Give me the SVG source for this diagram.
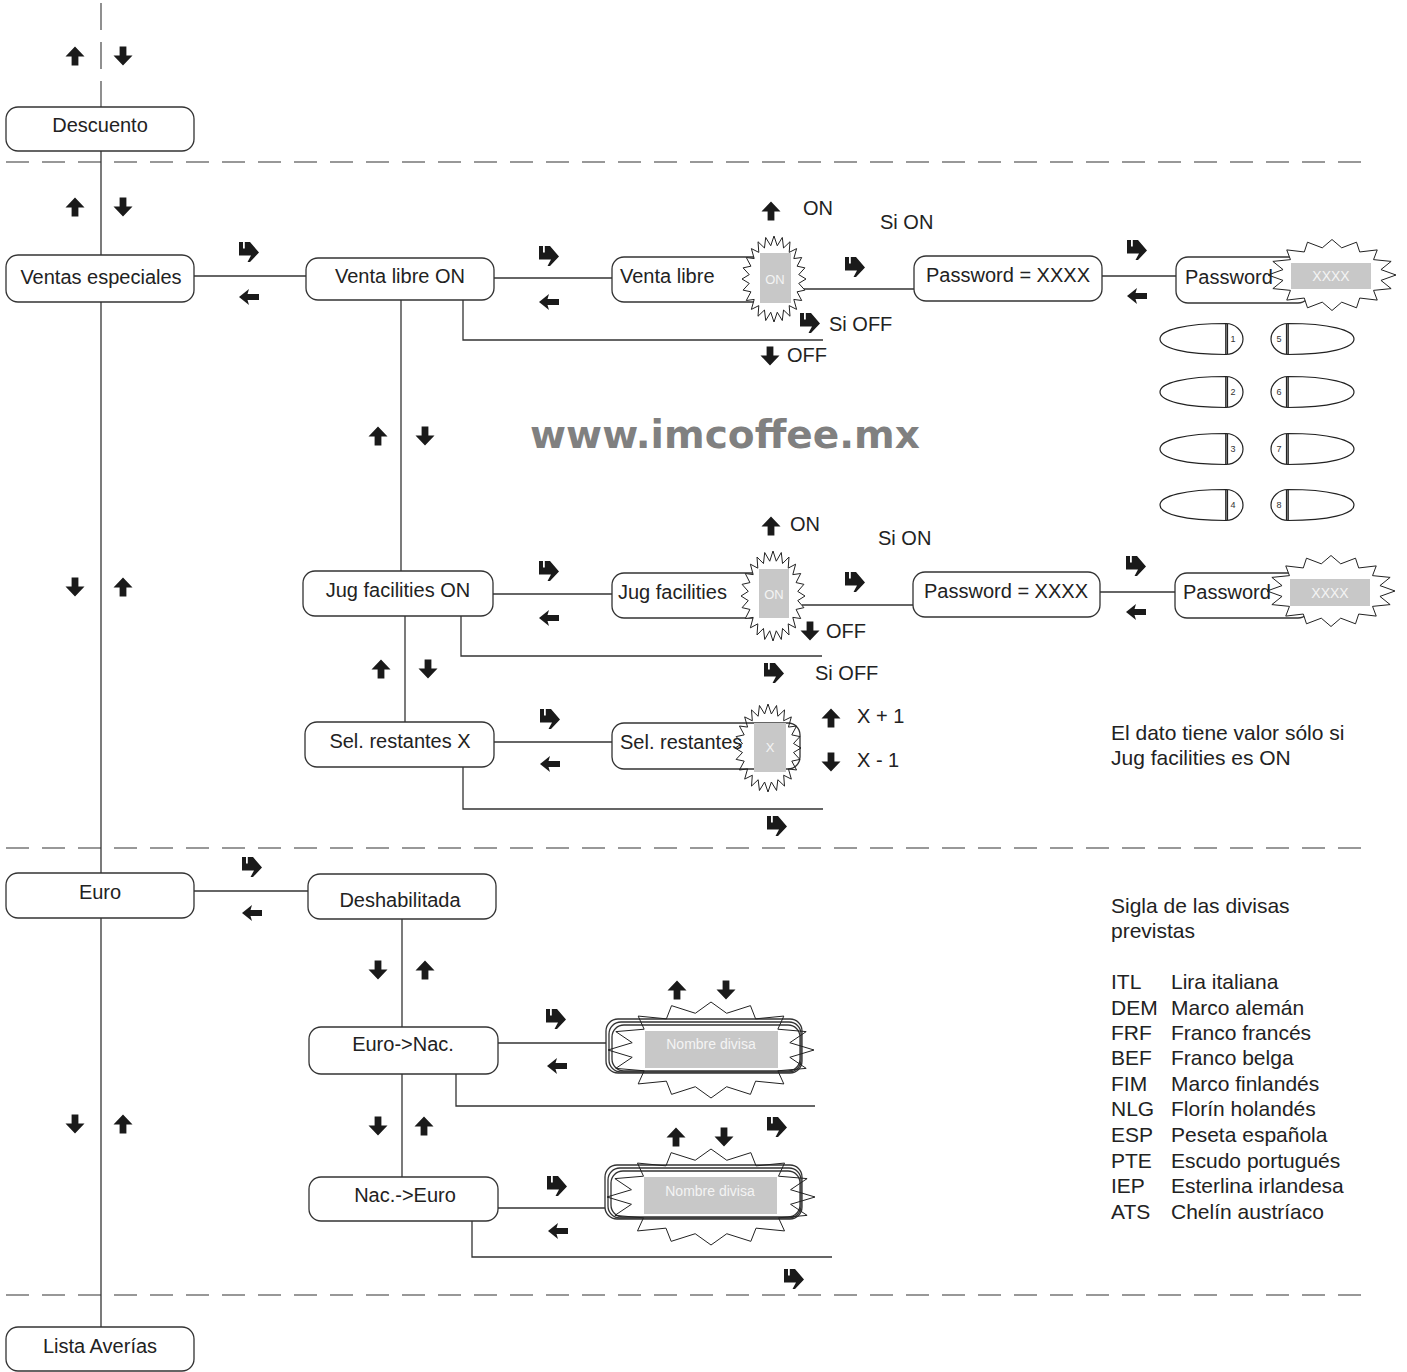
<svg xmlns="http://www.w3.org/2000/svg" xmlns:xlink="http://www.w3.org/1999/xlink" width="1407" height="1372" viewBox="0 0 1407 1372">
<style>
.box{fill:#fff;stroke:#333;stroke-width:1.3}
.ln{stroke:#333;stroke-width:1.3;fill:none}
.dash{stroke:#777;stroke-width:1.6;stroke-dasharray:23 13;fill:none}
.vdash{stroke:#555;stroke-width:1.3;stroke-dasharray:27 12;fill:none}
.t{font-family:"Liberation Sans",Arial,Helvetica,sans-serif;font-size:20px;fill:#222}
.tr{font-family:"Liberation Sans",Arial,Helvetica,sans-serif;font-size:21px;fill:#222}
.m{text-anchor:middle}
.ar{fill:#1a1a1a}
.bw{fill:#fff;stroke:#222;stroke-width:1}
.bn{fill:none;stroke:#222;stroke-width:1}
.gray{fill:#c8c8c8}
.wt{font-family:"Liberation Sans",Arial,Helvetica,sans-serif;fill:#f4f4f4;text-anchor:middle}
.key{fill:#fff;stroke:#222;stroke-width:1.2}
.kn{font-family:"Liberation Sans",Arial,sans-serif;font-size:9px;fill:#333;text-anchor:middle}
.wm{font-family:"DejaVu Sans",Verdana,sans-serif;font-weight:bold;font-size:39px;fill:#808080}
</style>
<defs>
<path id="aU" d="M0,-9.5 L9.5,0.5 L3.4,0.5 L3.4,9.5 L-3.4,9.5 L-3.4,0.5 L-9.5,0.5 Z"/>
<path id="aD" d="M0,9.5 L9.5,-0.5 L3.4,-0.5 L3.4,-9.5 L-3.4,-9.5 L-3.4,-0.5 L-9.5,-0.5 Z"/>
<path id="aL" d="M-10,0 L0,-8 L-1.5,-3 L10,-3 L10,3 L-1.5,3 L0,8 Z"/>
<path id="aE" d="M-10,-10 L-6,-10 L-6,-3.5 L-4.2,-3.5 L-4.2,-10 L1,-10 L10,0.5 L1,10 L-1.5,10 L2,3.5 L-10,3.5 Z"/>
<polygon id="bF" vector-effect="non-scaling-stroke" points="100,0 77.3,10.2 96.6,25.9 72.1,29.8 86.6,50 61.9,47.5 70.7,70.7 47.5,61.9 50,86.6 29.8,72.1 25.9,96.6 10.2,77.3 0,100 -10.2,77.3 -25.9,96.6 -29.8,72.1 -50,86.6 -47.5,61.9 -70.7,70.7 -61.9,47.5 -86.6,50 -72.1,29.8 -96.6,25.9 -77.3,10.2 -100,0 -77.3,-10.2 -96.6,-25.9 -72.1,-29.8 -86.6,-50 -61.9,-47.5 -70.7,-70.7 -47.5,-61.9 -50,-86.6 -29.8,-72.1 -25.9,-96.6 -10.2,-77.3 0,-100 10.2,-77.3 25.9,-96.6 29.8,-72.1 50,-86.6 47.5,-61.9 70.7,-70.7 61.9,-47.5 86.6,-50 72.1,-29.8 96.6,-25.9 77.3,-10.2"/>
<polygon id="bC" vector-effect="non-scaling-stroke" points="100,0 76.5,15.2 92.4,38.3 64.9,43.3 70.7,70.7 43.3,64.9 38.3,92.4 15.2,76.5 0,100 -15.2,76.5 -38.3,92.4 -43.3,64.9 -70.7,70.7 -64.9,43.3 -92.4,38.3 -76.5,15.2 -100,0 -76.5,-15.2 -92.4,-38.3 -64.9,-43.3 -70.7,-70.7 -43.3,-64.9 -38.3,-92.4 -15.2,-76.5 0,-100 15.2,-76.5 38.3,-92.4 43.3,-64.9 70.7,-70.7 64.9,-43.3 92.4,-38.3 76.5,-15.2"/>
<g id="keyL">
<path d="M66,-15.5 C25,-15.5 0,-9 0,0 C0,9 25,15.5 66,15.5 Z"/>
<path d="M66,-15.5 C75,-15.5 83,-8 83,0 C83,8 75,15.5 66,15.5 Z"/>
<line x1="67.5" y1="-15" x2="67.5" y2="15" stroke="#222" stroke-width="1.2"/>
</g>
</defs>

<rect width="1407" height="1372" fill="#fff"/>

<!-- section separators -->
<g id="separators">
<line class="dash" x1="6" y1="162" x2="1368" y2="162"/>
<line class="dash" x1="6" y1="848" x2="1368" y2="848"/>
<line class="dash" x1="6" y1="1295" x2="1368" y2="1295"/>
</g>

<g id="watermark">
<text class="wm" x="725" y="448" text-anchor="middle" textLength="390" lengthAdjust="spacingAndGlyphs">www.imcoffee.mx</text>
</g>

<!-- connectors -->
<g id="connectors">
<line class="vdash" x1="101" y1="3" x2="101" y2="107"/>
<line class="ln" x1="101" y1="151" x2="101" y2="255"/>
<line class="ln" x1="101" y1="302" x2="101" y2="873"/>
<line class="ln" x1="101" y1="918" x2="101" y2="1327"/>
<line class="ln" x1="194" y1="276" x2="306" y2="276"/>
<line class="ln" x1="494" y1="278" x2="612" y2="278"/>
<polyline class="ln" points="463,300 463,340 823,340"/>
<line class="ln" x1="401" y1="300" x2="401" y2="571"/>
<line class="ln" x1="803" y1="289" x2="914" y2="289"/>
<line class="ln" x1="1102" y1="276" x2="1176" y2="276"/>
<line class="ln" x1="493" y1="594" x2="612" y2="594"/>
<polyline class="ln" points="461,616 461,656 822,656"/>
<line class="ln" x1="802" y1="605" x2="913" y2="605"/>
<line class="ln" x1="1100" y1="592" x2="1175" y2="592"/>
<line class="ln" x1="405" y1="616" x2="405" y2="722"/>
<line class="ln" x1="494" y1="742" x2="612" y2="742"/>
<polyline class="ln" points="463,767 463,809 823,809"/>
<line class="ln" x1="194" y1="891" x2="308" y2="891"/>
<line class="ln" x1="402" y1="918" x2="402" y2="1027"/>
<line class="ln" x1="498" y1="1043" x2="608" y2="1043"/>
<polyline class="ln" points="456,1074 456,1106 815,1106"/>
<line class="ln" x1="402" y1="1074" x2="402" y2="1177"/>
<line class="ln" x1="498" y1="1208" x2="607" y2="1208"/>
<polyline class="ln" points="472,1221 472,1257 832,1257"/>
</g>

<!-- navigation arrows -->
<g id="arrows" class="ar">
<use href="#aU" x="75" y="56"/><use href="#aD" x="123" y="56"/>
<use href="#aU" x="75" y="207"/><use href="#aD" x="123" y="207"/>
<use href="#aD" x="75" y="587"/><use href="#aU" x="123" y="587"/>
<use href="#aD" x="75" y="1124"/><use href="#aU" x="123" y="1124"/>
<use href="#aE" x="249" y="252"/><use href="#aL" x="249" y="297"/>
<use href="#aE" x="549" y="256"/><use href="#aL" x="549" y="302"/>
<use href="#aU" x="771" y="211"/>
<use href="#aE" x="855" y="267"/>
<use href="#aE" x="810" y="323"/>
<use href="#aD" x="770" y="356"/>
<use href="#aE" x="1137" y="250"/><use href="#aL" x="1137" y="296"/>
<use href="#aU" x="378" y="436"/><use href="#aD" x="425" y="436"/>
<use href="#aE" x="549" y="571"/><use href="#aL" x="549" y="618"/>
<use href="#aU" x="771" y="526"/>
<use href="#aE" x="855" y="582"/>
<use href="#aD" x="810" y="631"/>
<use href="#aE" x="774" y="673"/>
<use href="#aE" x="1136" y="566"/><use href="#aL" x="1136" y="612"/>
<use href="#aU" x="381" y="669"/><use href="#aD" x="428" y="669"/>
<use href="#aE" x="550" y="719"/><use href="#aL" x="550" y="764"/>
<use href="#aU" x="831" y="718"/><use href="#aD" x="831" y="762"/>
<use href="#aE" x="777" y="826"/>
<use href="#aE" x="252" y="867"/><use href="#aL" x="252" y="913"/>
<use href="#aD" x="378" y="970"/><use href="#aU" x="425" y="970"/>
<use href="#aE" x="556" y="1019"/><use href="#aL" x="557" y="1066"/>
<use href="#aU" x="677" y="990"/><use href="#aD" x="726" y="990"/>
<use href="#aD" x="378" y="1126"/><use href="#aU" x="424" y="1126"/>
<use href="#aE" x="777" y="1127"/>
<use href="#aU" x="676" y="1137"/><use href="#aD" x="724" y="1137"/>
<use href="#aE" x="557" y="1186"/><use href="#aL" x="558" y="1231"/>
<use href="#aE" x="794" y="1279"/>
</g>

<!-- main menu nodes -->
<g id="n-descuento">
<rect class="box" x="6" y="107" width="188" height="44" rx="12"/>
<text class="t m" x="100" y="132">Descuento</text>
</g>
<g id="n-ventas">
<rect class="box" x="6" y="255" width="188" height="47" rx="12"/>
<text class="t m" x="101" y="284">Ventas especiales</text>
</g>
<g id="n-euro">
<rect class="box" x="6" y="873" width="188" height="45" rx="12"/>
<text class="t m" x="100" y="899">Euro</text>
</g>
<g id="n-lista">
<rect class="box" x="6" y="1327" width="188" height="44" rx="12"/>
<text class="t m" x="100" y="1353">Lista Averías</text>
</g>

<!-- Venta libre -->
<g id="n-venta-libre-on">
<rect class="box" x="306" y="258" width="188" height="42" rx="12"/>
<text class="t m" x="400" y="283">Venta libre ON</text>
</g>
<g id="n-venta-libre">
<rect class="box" x="612" y="257" width="180" height="45" rx="12"/>
<use href="#bF" class="bw" transform="translate(774,279) scale(0.32,0.43)"/>
<rect class="gray" x="760" y="253" width="31" height="50"/>
<text class="wt" x="775" y="284" font-size="13">ON</text>
<text class="t" x="620" y="283">Venta libre</text>
<text class="t" x="803" y="215">ON</text>
<text class="t" x="880" y="229">Si ON</text>
<text class="t" x="829" y="331">Si OFF</text>
<text class="t" x="787" y="362">OFF</text>
</g>
<g id="n-password-1">
<rect class="box" x="914" y="256" width="188" height="45" rx="12"/>
<text class="t m" x="1008" y="282">Password = XXXX</text>
</g>
<g id="n-password-entry-1">
<rect class="box" x="1176" y="257" width="134" height="46" rx="12"/>
<use href="#bC" class="bw" transform="translate(1332,275) scale(0.64,0.355)"/>
<rect class="gray" x="1291" y="263" width="80" height="26"/>
<text class="wt" x="1331" y="281" font-size="14">XXXX</text>
<text class="t" x="1185" y="284">Password</text>
</g>

<!-- keypad -->
<g id="keypad">
<g class="key">
<use href="#keyL" transform="translate(1160,339)"/>
<use href="#keyL" transform="translate(1160,392)"/>
<use href="#keyL" transform="translate(1160,449)"/>
<use href="#keyL" transform="translate(1160,505)"/>
<use href="#keyL" transform="translate(1354,339) scale(-1,1)"/>
<use href="#keyL" transform="translate(1354,392) scale(-1,1)"/>
<use href="#keyL" transform="translate(1354,449) scale(-1,1)"/>
<use href="#keyL" transform="translate(1354,505) scale(-1,1)"/>
</g>
<text class="kn" x="1233" y="342">1</text>
<text class="kn" x="1233" y="395">2</text>
<text class="kn" x="1233" y="452">3</text>
<text class="kn" x="1233" y="508">4</text>
<text class="kn" x="1279" y="342">5</text>
<text class="kn" x="1279" y="395">6</text>
<text class="kn" x="1279" y="452">7</text>
<text class="kn" x="1279" y="508">8</text>
</g>

<!-- Jug facilities -->
<g id="n-jug-on">
<rect class="box" x="303" y="571" width="190" height="45" rx="12"/>
<text class="t m" x="398" y="597">Jug facilities ON</text>
</g>
<g id="n-jug">
<rect class="box" x="612" y="573" width="180" height="45" rx="12"/>
<use href="#bF" class="bw" transform="translate(773,596) scale(0.32,0.45)"/>
<rect class="gray" x="759" y="569" width="30" height="49"/>
<text class="wt" x="774" y="599" font-size="13">ON</text>
<text class="t" x="618" y="599">Jug facilities</text>
<text class="t" x="790" y="531">ON</text>
<text class="t" x="878" y="545">Si ON</text>
<text class="t" x="826" y="638">OFF</text>
<text class="t" x="815" y="680">Si OFF</text>
</g>
<g id="n-password-2">
<rect class="box" x="913" y="572" width="187" height="45" rx="12"/>
<text class="t m" x="1006" y="598">Password = XXXX</text>
</g>
<g id="n-password-entry-2">
<rect class="box" x="1175" y="573" width="135" height="45" rx="12"/>
<use href="#bC" class="bw" transform="translate(1331,591) scale(0.64,0.355)"/>
<rect class="gray" x="1290" y="579" width="80" height="27"/>
<text class="wt" x="1330" y="598" font-size="14">XXXX</text>
<text class="t" x="1183" y="599">Password</text>
</g>

<!-- Sel. restantes -->
<g id="n-sel-x">
<rect class="box" x="305" y="722" width="189" height="45" rx="12"/>
<text class="t m" x="400" y="748">Sel. restantes X</text>
</g>
<g id="n-sel">
<rect class="box" x="612" y="723" width="188" height="46" rx="12"/>
<use href="#bF" class="bn" transform="translate(768,748) scale(0.33,0.44)"/>
<rect class="gray" x="754" y="723" width="32" height="49"/>
<text class="wt" x="770" y="752" font-size="13">X</text>
<text class="t" x="620" y="749">Sel. restantes</text>
<text class="t" x="857" y="723">X + 1</text>
<text class="t" x="857" y="767">X - 1</text>
</g>
<g id="note-jug">
<text class="tr" x="1111" y="740">El dato tiene valor sólo si</text>
<text class="tr" x="1111" y="765">Jug facilities es ON</text>
</g>

<!-- Euro -->
<g id="n-deshabilitada">
<rect class="box" x="308" y="874" width="188" height="45" rx="12"/>
<text class="t m" x="400" y="907">Deshabilitada</text>
</g>
<g id="n-euro-nac">
<rect class="box" x="309" y="1027" width="189" height="47" rx="12"/>
<text class="t m" x="403" y="1051">Euro-&gt;Nac.</text>
</g>
<g id="n-divisa-1">
<rect class="box" x="606" y="1019" width="196" height="54" rx="12"/>
<rect class="box" x="609" y="1022" width="192" height="50" rx="12"/>
<rect class="box" x="612" y="1025" width="188" height="46" rx="12"/>
<use href="#bC" class="bn" transform="translate(711,1050) scale(1.03,0.48)"/>
<rect class="gray" x="645" y="1031" width="133" height="37"/>
<text class="wt" x="711" y="1049" font-size="14">Nombre divisa</text>
</g>
<g id="n-nac-euro">
<rect class="box" x="309" y="1177" width="189" height="44" rx="12"/>
<text class="t m" x="405" y="1202">Nac.-&gt;Euro</text>
</g>
<g id="n-divisa-2">
<rect class="box" x="605" y="1165" width="197" height="54" rx="12"/>
<rect class="box" x="608" y="1168" width="193" height="50" rx="12"/>
<rect class="box" x="611" y="1171" width="189" height="46" rx="12"/>
<use href="#bC" class="bn" transform="translate(711,1197) scale(1.04,0.48)"/>
<rect class="gray" x="644" y="1177" width="133" height="37"/>
<text class="wt" x="710" y="1196" font-size="14">Nombre divisa</text>
</g>

<g id="note-divisas">
<text class="tr" x="1111" y="913">Sigla de las divisas</text>
<text class="tr" x="1111" y="938">previstas</text>
<text class="tr" x="1111" y="989">ITL</text><text class="tr" x="1171" y="989">Lira italiana</text>
<text class="tr" x="1111" y="1015">DEM</text><text class="tr" x="1171" y="1015">Marco alemán</text>
<text class="tr" x="1111" y="1040">FRF</text><text class="tr" x="1171" y="1040">Franco francés</text>
<text class="tr" x="1111" y="1065">BEF</text><text class="tr" x="1171" y="1065">Franco belga</text>
<text class="tr" x="1111" y="1091">FIM</text><text class="tr" x="1171" y="1091">Marco finlandés</text>
<text class="tr" x="1111" y="1116">NLG</text><text class="tr" x="1171" y="1116">Florín holandés</text>
<text class="tr" x="1111" y="1142">ESP</text><text class="tr" x="1171" y="1142">Peseta española</text>
<text class="tr" x="1111" y="1168">PTE</text><text class="tr" x="1171" y="1168">Escudo portugués</text>
<text class="tr" x="1111" y="1193">IEP</text><text class="tr" x="1171" y="1193">Esterlina irlandesa</text>
<text class="tr" x="1111" y="1219">ATS</text><text class="tr" x="1171" y="1219">Chelín austríaco</text>
</g>
</svg>
